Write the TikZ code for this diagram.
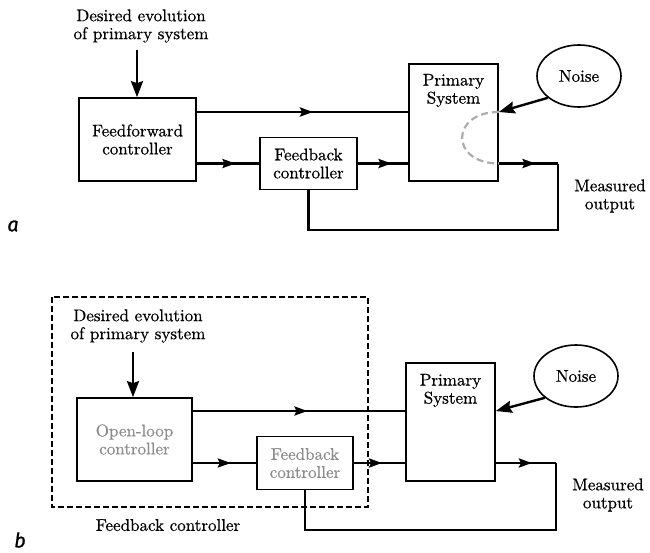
\documentclass[tikz,border=0pt]{standalone}
\usepackage{fontspec}
\setmainfont{lmroman10-regular.otf}[FakeBold=0.6]
\newfontfamily\panelfont{Fira Sans}[FakeBold=1]
\usetikzlibrary{arrows.meta,shapes.geometric,decorations.markings}

\definecolor{dimtext}{gray}{0.55}
\definecolor{dimline}{gray}{0.68}

\tikzset{
  blk/.style={draw, line width=1.7pt, inner sep=0pt, align=center},
  txt/.style={align=center, inner sep=0pt},
  noisy/.style={draw, ellipse, line width=1.6pt, minimum width=84pt, minimum height=62pt, inner sep=0pt},
  conn/.style={line width=2.4pt},
  tip/.style={-{Stealth[length=16pt,width=12pt,inset=2pt]}},
  midarrow/.style={postaction={decorate},
    decoration={markings, mark=at position #1 with {\arrow{Stealth[length=13pt,width=9pt,inset=2pt]}}}},
  leak/.style={dimline, line width=2.2pt, dash pattern=on 7pt off 4pt},
  group/.style={line width=1.4pt, dash pattern=on 6pt off 3pt},
  panel/.style={font=\panelfont\itshape\fontsize{20}{20}\selectfont, inner sep=0pt}
}

\begin{document}
\begin{tikzpicture}[x=1pt, y=-1pt, font=\fontsize{17}{18}\selectfont]
\useasboundingbox (0,0) rectangle (650,552);

% --- panel a
\node[txt] (desa) at (141,26) {Desired evolution\\of primary system};
\node[blk, minimum width=117pt, minimum height=83pt] (ffa) at (137.5,139.5) {Feedforward\\controller};
\node[blk, minimum width=97pt, minimum height=52pt] (fba) at (308.5,163.5) {Feedback\\controller};
\node[blk, minimum width=89pt, minimum height=117pt] (pria) at (453.5,122.5) {};
\node[txt] (pritxta) at (453.5,90.5) {Primary\\System};
\node[noisy] (noisea) at (579,76) {Noise};
\node[txt] (outtxta) at (610,196) {Measured\\output};
\node[panel] (taga) at (13,226) {a};
\coordinate (ina) at (137,50);
\coordinate (topa) at ([yshift=27.5pt]ffa.east);
\coordinate (lowa) at ([yshift=-24pt]ffa.east);
\coordinate (outa) at (558,163.5);
\coordinate (loopa) at (558,230);

\draw[conn, tip] (ina) -- (ina |- ffa.north);
\draw[conn, midarrow=0.55] (topa) -- (topa -| pria.west);
\draw[conn, midarrow=0.62] (lowa) -- (lowa -| fba.west);
\draw[conn, midarrow=0.67] (fba.east) -- (fba.east -| pria.west);
\draw[conn, midarrow=0.62] (fba.east -| pria.east) -- (outa);
\draw[conn] (outa) -- (loopa) -| (fba.south);
\draw[conn, tip] (noisea.215) -- (topa -| pria.east);
\draw[leak] (topa -| pria.east) .. controls +(-49,0) and +(-49,0) .. (fba.east -| pria.east);

% --- panel b
\draw[group] (52,297) rectangle (368,507);
\node[txt] (desb) at (138,326) {Desired evolution\\of primary system};
\node[blk, text=dimtext, minimum width=115pt, minimum height=83pt] (olb) at (134.5,439.5) {Open-loop\\controller};
\node[blk, text=dimtext, minimum width=96pt, minimum height=53pt] (fbb) at (305,463) {Feedback\\controller};
\node[blk, minimum width=89pt, minimum height=118pt] (prib) at (450.5,422) {};
\node[txt] (pritxtb) at (450.5,390.5) {Primary\\System};
\node[noisy] (noiseb) at (576,376) {Noise};
\node[txt] (outtxtb) at (608,495) {Measured\\output};
\node[txt] (grouptxt) at (168,525) {Feedback controller};
\node[panel] (tagb) at (20,540) {b};
\coordinate (inb) at (133,352);
\coordinate (topb) at ([yshift=28.5pt]olb.east);
\coordinate (lowb) at ([yshift=-23.5pt]olb.east);
\coordinate (outb) at (556,463);
\coordinate (loopb) at (556,530);

\draw[conn, tip] (inb) -- (inb |- olb.north);
\draw[conn, midarrow=0.54] (topb) -- (topb -| prib.west);
\draw[conn, midarrow=0.6] (lowb) -- (lowb -| fbb.west);
\draw[conn, midarrow=0.55] (fbb.east) -- (fbb.east -| prib.west);
\draw[conn, midarrow=0.6] (fbb.east -| prib.east) -- (outb);
\draw[conn] (outb) -- (loopb) -| (fbb.south);
\draw[conn, tip] (noiseb.215) -- (topb -| prib.east);
\end{tikzpicture}
\end{document}
